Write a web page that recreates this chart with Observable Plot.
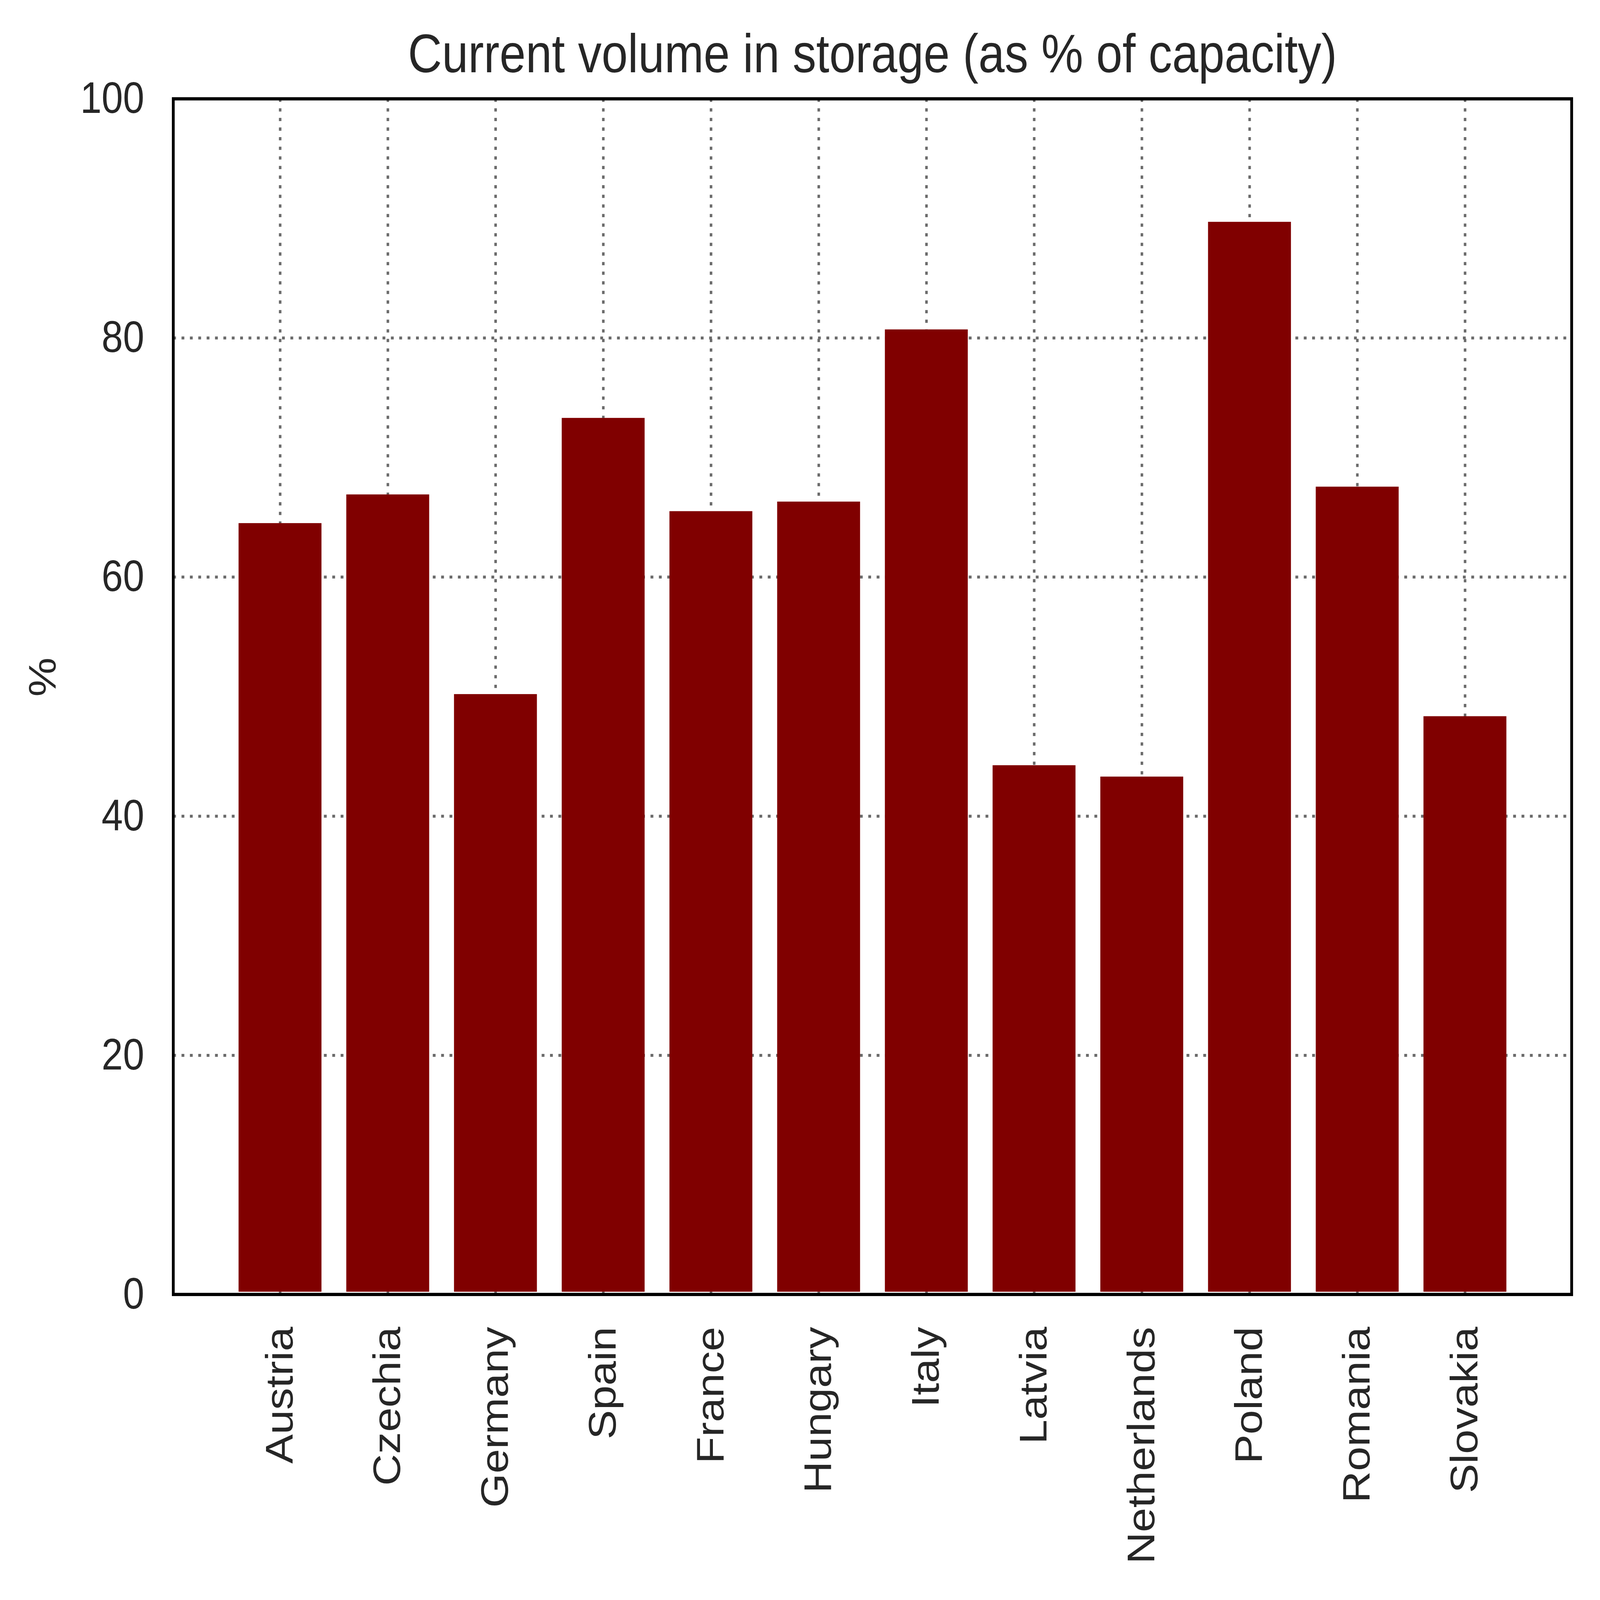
<!DOCTYPE html>
<html>
<head>
<meta charset="utf-8">
<script src="https://cdn.jsdelivr.net/npm/d3@7"></script>
<script src="https://cdn.jsdelivr.net/npm/@observablehq/plot@0.6"></script>
<style>
  html, body { margin: 0; padding: 0; background: #fff; overflow: hidden; }
  #wrap { width: 5674px; height: 4946px; transform-origin: 0 0; position: absolute; left: 0; top: 0; background: #fff; }
</style>
</head>
<body>
<div id="wrap"></div>
<script>
const title = "Current volume in storage (as % of capacity)";
const countries = ["Austria", "Czechia", "Germany", "Spain", "France", "Hungary", "Italy", "Latvia", "Netherlands", "Poland", "Romania", "Slovakia"];
const storagePct = [64.5, 66.9, 50.2, 73.3, 65.5, 66.3, 80.7, 44.25, 43.3, 89.7, 67.55, 48.35];
const yTicks = [0, 20, 40, 60, 80, 100];
const yGrid = [20, 40, 60, 80];
const yLabel = "%";

const rows = countries.map((c, i) => ({country: c, value: storagePct[i]}));

const gridStyle = {stroke: "#6b6b6b", strokeOpacity: 1, strokeWidth: 9, strokeDasharray: "10,19.7"};

const chart = Plot.plot({
  width: 5674,
  height: 4946,
  marginTop: 305,
  marginBottom: 945,
  marginLeft: 614,
  marginRight: 101,
  style: {fontFamily: "'Liberation Sans', Arial, sans-serif", color: "#262626", background: "#fff"},
  x: {type: "band", domain: countries, paddingInner: 0.2, paddingOuter: 0.59, align: 0.5},
  y: {domain: [0, 100]},
  marks: [
    Plot.gridX(countries, {...gridStyle}),
    Plot.gridY(yGrid, {...gridStyle}),
    Plot.barY(rows, {x: "country", y: "value", fill: "#800000", insetLeft: 6, insetRight: 6, insetBottom: 8}),
    Plot.axisY(yTicks, {tickSize: 0, tickPadding: 103, fontSize: 136, label: null, tickFormat: d => String(d)}),
    Plot.axisX(countries, {tickSize: 0, tickPadding: 100, tickRotate: -90, fontSize: 136, label: null}),
    Plot.text([yLabel], {text: d => d, frameAnchor: "left", dx: -461, rotate: -90, fontSize: 136, fill: "#262626"}),
    Plot.text([title], {text: d => d, frameAnchor: "top", lineAnchor: "bottom", dy: -82, fontSize: 167, fill: "#262626"}),
    Plot.frame({stroke: "black", strokeWidth: 10})
  ]
});
document.getElementById("wrap").appendChild(chart);

function fit() {
  const sx = window.innerWidth / 5674, sy = window.innerHeight / 4946;
  document.getElementById("wrap").style.transform = `scale(${sx}, ${sy})`;
}
fit();
window.addEventListener("resize", fit);
</script>
</body>
</html>
